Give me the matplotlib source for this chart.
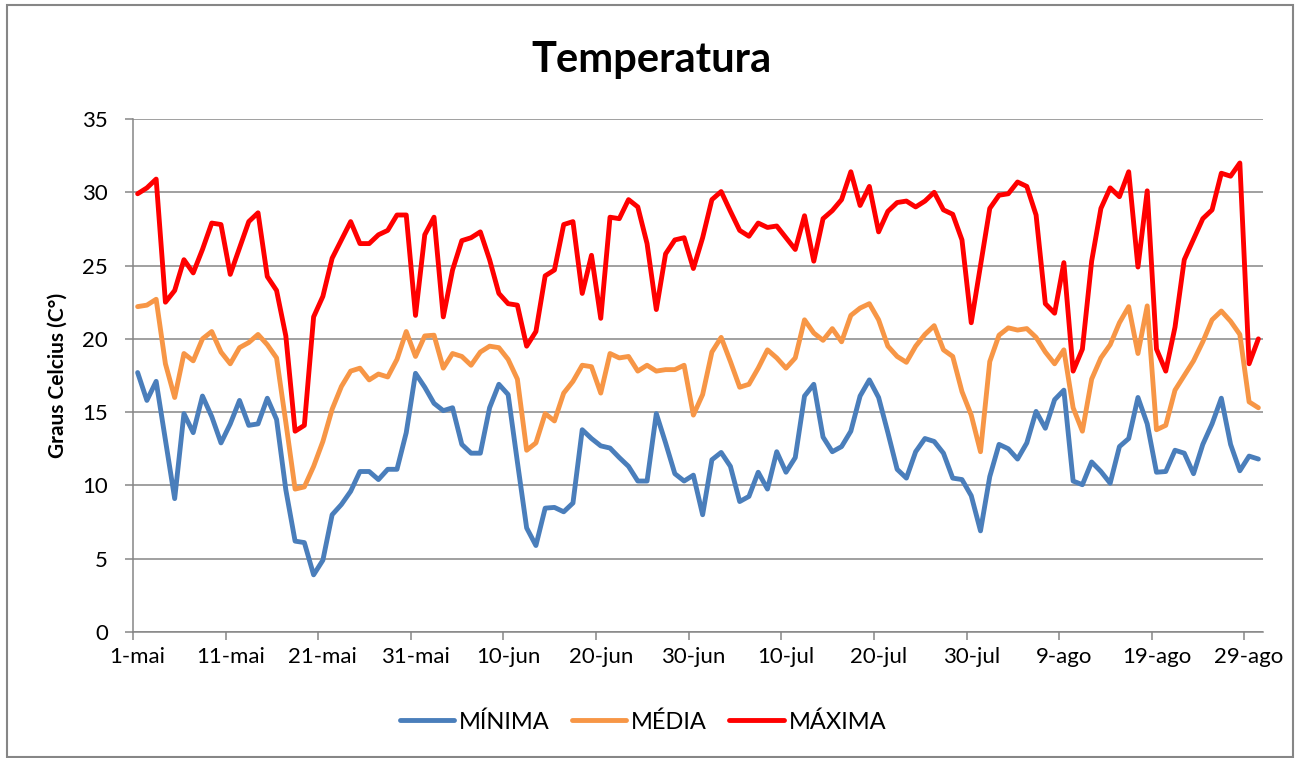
import matplotlib
matplotlib.use("Agg")
import matplotlib.pyplot as plt
import numpy as np
from matplotlib.patches import Rectangle

plt.rcParams["font.family"] = ["Lato", "DejaVu Sans"]

# daily values, 1-mai .. 30-ago
minima = [17.7, 15.8, 17.1, 13.1, 9.1, 14.9, 13.6, 16.1, 14.7, 12.9, 14.2, 15.8, 14.1, 14.2, 15.95,
          14.5, 9.7, 6.2, 6.1, 3.9, 4.9, 8.0, 8.7, 9.6, 10.95, 10.95, 10.4, 11.1, 11.1, 13.6,
          17.65, 16.7, 15.6, 15.1, 15.3, 12.8, 12.2, 12.2, 15.3, 16.9, 16.2, 11.6, 7.1, 5.9, 8.45,
          8.5, 8.2, 8.8, 13.8, 13.2, 12.7, 12.55, 11.9, 11.3, 10.3, 10.3, 14.9, 12.9, 10.8, 10.3,
          10.7, 8.0, 11.75, 12.25, 11.3, 8.9, 9.25, 10.9, 9.75, 12.3, 10.9, 11.9, 16.1, 16.9, 13.3,
          12.3, 12.65, 13.7, 16.1, 17.2, 16.0, 13.6, 11.1, 10.5, 12.3, 13.2, 13.0, 12.2, 10.5, 10.4,
          9.3, 6.9, 10.6, 12.8, 12.5, 11.8, 12.9, 15.05, 13.9, 15.85, 16.5, 10.3, 10.05, 11.6, 10.95,
          10.15, 12.65, 13.2, 16.0, 14.2, 10.9, 10.95, 12.4, 12.2, 10.8, 12.8, 14.2, 15.95, 12.8, 11.0,
          12.0, 11.8]
media = [22.2, 22.3, 22.7, 18.3, 16.0, 19.0, 18.5, 20.0, 20.5, 19.1, 18.3, 19.4, 19.75, 20.3, 19.6,
         18.7, 14.3, 9.75, 9.9, 11.3, 13.0, 15.2, 16.75, 17.8, 18.0, 17.2, 17.6, 17.4, 18.6, 20.5,
         18.8, 20.2, 20.25, 18.0, 19.0, 18.8, 18.2, 19.1, 19.5, 19.4, 18.6, 17.25, 12.4, 12.9, 14.9,
         14.4, 16.3, 17.1, 18.2, 18.1, 16.3, 19.0, 18.7, 18.8, 17.8, 18.2, 17.8, 17.9, 17.9, 18.2,
         14.8, 16.2, 19.1, 20.1, 18.45, 16.7, 16.9, 18.0, 19.25, 18.7, 18.0, 18.7, 21.3, 20.4, 19.9,
         20.7, 19.8, 21.6, 22.1, 22.4, 21.3, 19.5, 18.8, 18.4, 19.5, 20.3, 20.9, 19.25, 18.8, 16.4,
         14.8, 12.3, 18.45, 20.25, 20.75, 20.6, 20.7, 20.1, 19.1, 18.3, 19.25, 15.3, 13.7, 17.25, 18.7,
         19.6, 21.1, 22.2, 19.0, 22.25, 13.8, 14.1, 16.5, 17.5, 18.5, 19.8, 21.3, 21.9, 21.2, 20.3,
         15.7, 15.3]
maxima = [29.9, 30.3, 30.9, 22.5, 23.3, 25.4, 24.5, 26.1, 27.9, 27.8, 24.4, 26.2, 28.0, 28.6, 24.25,
          23.3, 20.2, 13.7, 14.1, 21.5, 22.9, 25.5, 26.75, 28.0, 26.5, 26.5, 27.1, 27.4, 28.45, 28.45,
          21.6, 27.1, 28.3, 21.5, 24.7, 26.7, 26.9, 27.3, 25.4, 23.1, 22.4, 22.3, 19.5, 20.5, 24.3,
          24.7, 27.8, 28.0, 23.1, 25.7, 21.4, 28.3, 28.2, 29.5, 29.0, 26.5, 22.0, 25.8, 26.75, 26.9,
          24.8, 26.9, 29.5, 30.05, 28.7, 27.4, 27.0, 27.9, 27.6, 27.7, 26.9, 26.1, 28.4, 25.3, 28.2,
          28.75, 29.5, 31.4, 29.1, 30.4, 27.3, 28.7, 29.3, 29.4, 29.0, 29.4, 30.0, 28.8, 28.5, 26.75,
          21.1, 25.0, 28.9, 29.8, 29.9, 30.7, 30.4, 28.45, 22.4, 21.75, 25.2, 17.8, 19.3, 25.3, 28.9,
          30.3, 29.7, 31.4, 24.9, 30.1, 19.3, 17.8, 20.8, 25.4, 26.8, 28.2, 28.8, 31.3, 31.1, 32.0,
          18.3, 20.0]
tick_labels = ["1-mai", "11-mai", "21-mai", "31-mai", "10-jun", "20-jun", "30-jun",
               "10-jul", "20-jul", "30-jul", "9-ago", "19-ago", "29-ago"]

n_days = len(minima)
x = np.arange(n_days) + 0.5  # each day sits in the middle of its slot

fig = plt.figure(figsize=(13, 7.58), dpi=100)
ax = fig.add_axes([133 / 1300, 1 - 632 / 758, 1130 / 1300, 513 / 758])

grid_color = "#868686"
series = [(minima, "#4A7EBB", "MÍNIMA"), (media, "#F79646", "MÉDIA"), (maxima, "#FF0000", "MÁXIMA")]
for vals, col, lab in series:
    ax.plot(x, vals, color=col, lw=3.5, label=lab,
            solid_joinstyle="round", solid_capstyle="round")

ax.set_xlim(0, n_days)
ax.set_ylim(0, 35)
ax.set_yticks(np.arange(0, 36, 5))
ax.yaxis.grid(True, color=grid_color, lw=1.1)
ax.set_axisbelow(True)

tick_pos = np.arange(0, n_days, 10)
ax.set_xticks(tick_pos)
ax.set_xticklabels([])
ax.set_xticks(tick_pos + 0.5, minor=True)
ax.set_xticklabels(tick_labels, minor=True)
ax.tick_params(axis="x", which="major", direction="out", length=6, width=1.1, color=grid_color)
ax.tick_params(axis="x", which="minor", length=0, pad=11, labelsize=16)
ax.tick_params(axis="y", direction="out", length=6, width=1.1, color=grid_color, pad=12, labelsize=16)

for side in ["top", "right"]:
    ax.spines[side].set_visible(False)
for side in ["left", "bottom"]:
    ax.spines[side].set_color(grid_color)
    ax.spines[side].set_linewidth(1.1)

fig.text(651 / 1300, 1 - 60 / 758, "Temperatura", ha="center", va="center",
         fontsize=30, fontweight="bold")
fig.text(58 / 1300, 1 - 375 / 758, "Graus Celcius (C°)", ha="center", va="center",
         rotation=90, fontsize=15, fontweight="bold")

leg = fig.legend(loc="center", bbox_to_anchor=(643 / 1300, 1 - 722 / 758), ncol=3,
                 frameon=False, fontsize=17, handlelength=2.3, handletextpad=0.2,
                 columnspacing=0.95)

fig.add_artist(Rectangle((7 / 1300, 1 / 758), 1286 / 1300, 752 / 758,
                         transform=fig.transFigure, fill=False, ec=grid_color, lw=1.5))

fig.savefig("out.png", dpi=100)
